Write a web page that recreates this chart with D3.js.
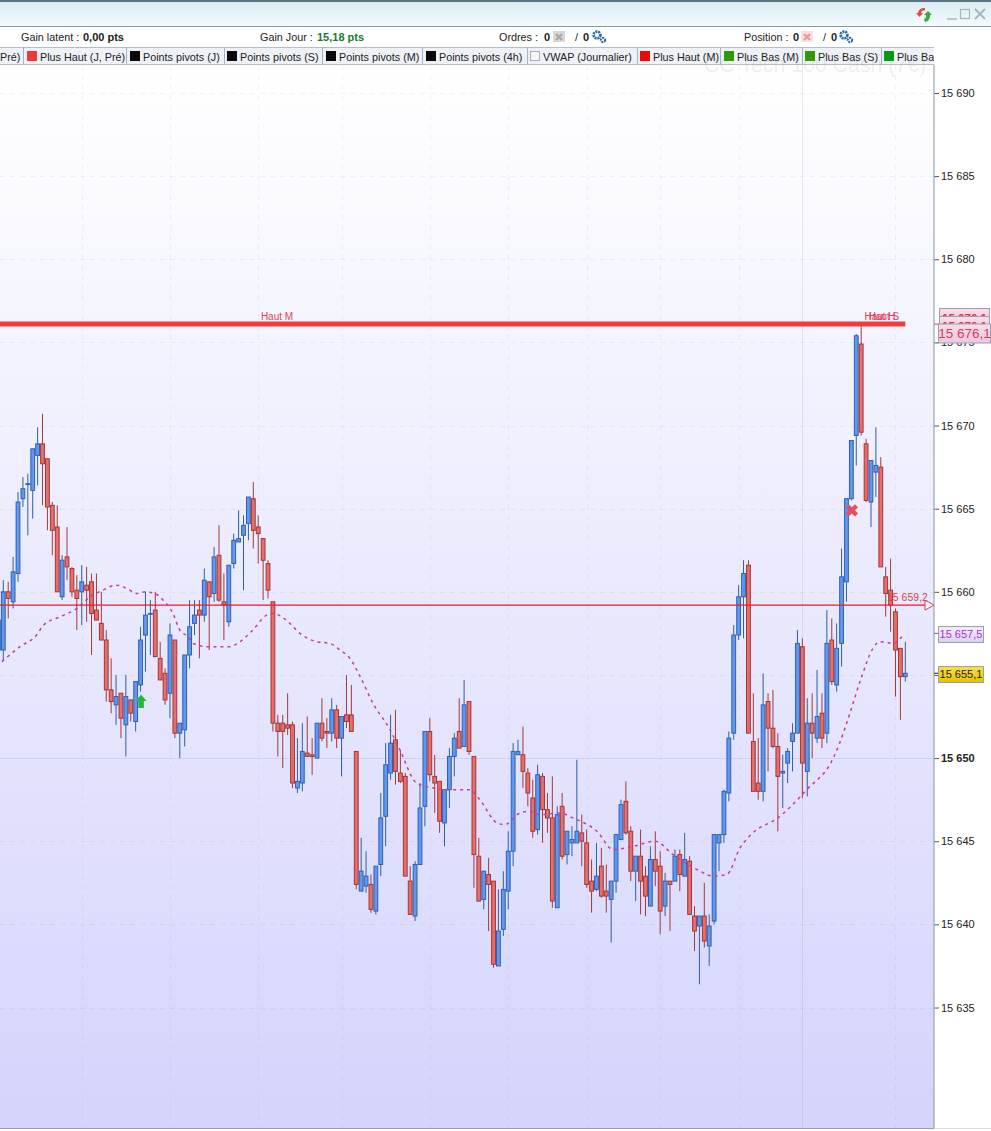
<!DOCTYPE html>
<html><head><meta charset="utf-8">
<style>html,body{margin:0;padding:0;background:#fff;overflow:hidden}svg{display:block}text{font-family:"Liberation Sans",Arial,sans-serif}</style>
<script src="https://cdn.jsdelivr.net/npm/d3@7"></script></head><body>
<script>
const opens=[15656.5,15656.5,15660.0,15659.4,15661.1,15665.6,15666.5,15666.1,15668.2,15668.9,
15668.0,15665.2,15663.9,15659.7,15662.1,15661.4,15660.1,15660.0,15660.4,15660.6,
15658.9,15658.1,15657.1,15654.1,15653.2,15653.9,15652.0,15653.5,15652.2,15654.4,
15657.4,15658.7,15658.9,15656.0,15655.1,15653.9,15657.1,15651.5,15651.7,15656.2,
15658.1,15658.9,15658.6,15660.6,15659.9,15662.2,15659.4,15658.2,15661.7,15663.0,
15663.4,15664.1,15665.6,15663.9,15663.2,15661.7,15659.4,15652.1,15652.1,15652.0,
15652.0,15648.2,15648.5,15650.3,15650.2,15650.0,15652.1,15651.6,15651.5,15652.9,
15651.2,15652.6,15652.6,15650.4,15642.0,15642.3,15642.4,15640.8,15643.6,15646.5,
15649.1,15651.1,15649.1,15648.9,15642.6,15640.5,15643.6,15647.1,15651.6,15648.9,
15648.6,15646.1,15648.1,15650.1,15651.6,15650.7,15653.4,15650.1,15644.1,15641.5,
15643.0,15642.6,15637.5,15639.7,15642.0,15644.4,15650.2,15650.2,15649.1,15647.6,
15645.7,15648.9,15646.9,15646.4,15641.0,15647.1,15644.2,15644.9,15644.9,15645.5,
15644.9,15642.6,15642.1,15643.5,15642.0,15641.5,15642.6,15645.1,15647.4,15645.6,
15643.2,15644.1,15642.9,15641.1,15643.9,15643.5,15641.1,15642.6,15642.6,15644.2,
15642.9,15643.8,15640.5,15639.9,15640.5,15638.7,15640.2,15644.9,15645.4,15647.9,
15651.5,15657.4,15659.7,15661.6,15651.0,15648.5,15648.0,15653.4,15651.8,15650.7,
15649.1,15649.7,15651.0,15651.5,15656.7,15649.2,15652.1,15651.2,15652.7,15651.5,
15657.1,15654.4,15656.9,15660.6,15665.6,15669.4,15674.9,15668.9,15665.4,15667.2,
15667.5,15660.9,15660.1,15658.8,15656.6,15654.9];
const closes=[15658.3,15660.0,15659.6,15661.2,15665.4,15666.2,15666.5,15668.6,15668.9,15667.7,
15665.1,15663.7,15660.0,15661.9,15661.5,15660.0,15659.6,15660.6,15660.1,15658.7,
15658.3,15657.1,15654.1,15653.4,15653.7,15652.4,15653.7,15652.7,15654.6,15657.1,
15658.6,15658.7,15656.1,15654.7,15653.5,15657.4,15651.5,15652.1,15656.2,15657.9,
15658.6,15658.6,15660.7,15659.7,15662.1,15659.5,15659.2,15661.6,15663.1,15663.2,
15664.0,15665.7,15663.7,15663.5,15661.9,15660.1,15652.1,15651.6,15651.6,15651.8,
15648.5,15648.6,15650.4,15650.1,15650.1,15652.1,15651.2,15651.5,15652.9,15651.2,
15652.5,15652.2,15651.6,15642.4,15643.2,15642.9,15640.9,15643.5,15646.4,15649.6,
15650.9,15649.2,15648.6,15642.9,15640.6,15643.6,15647.0,15651.6,15649.0,15648.5,
15646.2,15648.1,15650.1,15651.2,15650.6,15653.2,15650.4,15644.2,15641.4,15643.2,
15642.4,15637.6,15639.6,15642.1,15644.4,15650.4,15650.4,15649.2,15647.9,15645.6,
15649.0,15646.9,15646.4,15641.4,15646.6,15644.1,15645.6,15645.1,15645.6,15645.0,
15642.4,15642.0,15642.9,15641.7,15641.7,15642.6,15645.4,15647.2,15645.5,15643.2,
15644.1,15642.6,15641.7,15643.9,15643.2,15640.8,15642.6,15642.4,15644.1,15643.0,
15643.9,15640.6,15639.6,15640.5,15639.0,15639.9,15645.4,15645.4,15648.0,15651.2,
15657.4,15659.7,15661.1,15651.5,15648.0,15648.0,15653.2,15651.8,15650.7,15648.9,
15649.2,15650.4,15651.5,15656.9,15649.7,15652.1,15651.5,15652.5,15651.2,15656.9,
15654.6,15656.6,15660.9,15665.6,15669.1,15675.4,15669.6,15665.5,15667.9,15667.6,
15661.5,15659.9,15659.2,15656.5,15654.9,15655.1];
const highs=[15658.3,15660.7,15660.6,15662.1,15666.0,15666.9,15667.1,15668.6,15669.9,15670.7,
15668.0,15665.4,15665.2,15662.2,15663.9,15661.5,15661.0,15661.6,15661.5,15661.1,
15661.1,15660.0,15657.7,15656.0,15655.0,15653.9,15655.0,15653.5,15654.6,15657.9,
15660.0,15659.5,15660.0,15657.0,15655.4,15658.1,15657.1,15652.1,15656.2,15659.5,
15659.5,15659.5,15661.4,15660.6,15662.7,15664.0,15661.1,15661.6,15663.5,15664.9,
15664.6,15665.7,15666.6,15664.6,15663.2,15661.9,15659.4,15652.6,15652.6,15653.9,
15652.2,15651.2,15652.1,15652.5,15651.2,15652.1,15653.6,15652.4,15653.6,15653.2,
15652.5,15655.0,15654.4,15650.4,15645.2,15644.4,15643.0,15643.5,15647.9,15650.9,
15652.6,15652.9,15650.5,15649.1,15643.5,15643.8,15648.5,15651.6,15652.4,15650.2,
15648.6,15648.1,15650.6,15651.5,15653.6,15654.7,15653.4,15650.1,15645.2,15643.2,
15644.0,15642.6,15642.1,15643.2,15645.6,15650.9,15651.1,15651.9,15649.4,15648.7,
15649.6,15649.1,15647.9,15648.9,15647.1,15647.9,15645.6,15645.9,15649.9,15646.6,
15645.7,15643.9,15644.9,15644.6,15643.6,15642.6,15645.4,15647.5,15648.6,15645.9,
15644.1,15645.7,15643.5,15644.7,15645.6,15644.4,15643.1,15642.6,15644.5,15644.5,
15645.5,15644.1,15641.1,15640.5,15642.5,15640.6,15645.4,15645.4,15648.1,15651.6,
15658.0,15660.4,15661.9,15661.9,15653.9,15651.2,15655.1,15653.9,15654.1,15651.5,
15650.2,15650.6,15652.1,15657.7,15657.2,15653.6,15653.9,15655.3,15653.9,15658.9,
15658.4,15658.1,15662.6,15665.6,15669.1,15675.5,15676.0,15669.2,15667.9,15669.9,
15668.1,15661.5,15662.0,15659.0,15656.6,15657.0];
const lows=[15654.5,15655.9,15658.4,15659.0,15660.6,15665.1,15663.4,15664.4,15666.4,15665.2,
15663.7,15662.2,15660.0,15659.5,15660.7,15659.7,15657.7,15658.0,15658.2,15656.2,
15658.3,15657.1,15653.4,15652.7,15652.0,15651.2,15650.1,15652.2,15651.6,15654.0,
15655.2,15656.2,15656.1,15654.7,15653.2,15652.4,15651.2,15650.0,15650.7,15655.4,
15657.4,15656.0,15658.2,15656.5,15659.4,15659.4,15657.1,15657.9,15661.4,15663.0,
15660.1,15663.1,15662.6,15661.7,15659.5,15659.6,15651.6,15650.1,15649.4,15651.4,
15648.2,15647.9,15648.0,15650.1,15649.0,15650.0,15651.0,15650.6,15651.0,15650.6,
15648.9,15651.8,15651.6,15642.1,15642.0,15641.9,15640.7,15640.6,15642.9,15644.7,
15648.7,15648.4,15648.5,15642.9,15640.6,15640.2,15643.6,15645.9,15648.6,15646.7,
15645.5,15644.7,15647.0,15648.9,15650.6,15650.7,15650.2,15642.2,15641.4,15640.9,
15639.6,15637.4,15637.5,15639.3,15640.9,15643.5,15650.2,15648.2,15647.1,15645.2,
15645.4,15644.9,15645.5,15641.0,15641.0,15643.9,15643.6,15644.1,15644.9,15643.5,
15642.2,15640.7,15642.0,15641.6,15640.7,15638.9,15641.9,15645.1,15645.4,15642.6,
15641.4,15640.6,15640.5,15641.1,15642.3,15639.4,15640.5,15639.6,15642.6,15642.0,
15642.9,15640.6,15638.4,15636.4,15638.6,15637.5,15640.0,15643.2,15644.9,15647.4,
15651.1,15657.1,15657.2,15651.5,15648.0,15647.5,15647.4,15649.2,15650.6,15645.6,
15647.0,15648.5,15649.2,15651.5,15647.6,15647.7,15650.0,15650.9,15650.6,15650.9,
15654.4,15654.0,15655.5,15659.4,15665.5,15667.6,15669.4,15665.4,15663.9,15665.7,
15661.5,15658.5,15657.6,15653.7,15652.3,15654.6];
const vwapCandles=[0.7,4.4,7.8,9.2,12.6,16,18.7,21.3,24,26.2,28.2,29.9,31.9,33.6,35.6,37,38.7,39.7,42.5,47.2,49.3,51.9,54.7,55.8,57.8,59.1,61.5,64.9,67.6,69.7,71.7,73.8,76.4,79.9,81.9,85.3,88.7,92.1,96.2,98.2,101.7,103.3,106.4,108.5,110.5,114.6,117.2,122.1,125.4,129.5,134,137.6,142.5,145.8,148.6,151.3,153.9,159,164.9,170.3,172.7,173.7,176.1,178.4,179.8,182.5,184.3];
const vwapValues=[15655.8,15656.7,15657.4,15658,15658.5,15659,15659.7,15660.1,15660.4,15660.2,15659.9,15660,15659.9,15659.5,15658.7,15657.7,15657.3,15656.9,15656.7,15656.7,15657,15657.7,15658.6,15658.7,15658.5,15658.2,15657.5,15657,15656.9,15656.5,15656,15654.9,15653.3,15651.7,15650.5,15648.5,15648.2,15648.1,15648.1,15647.5,15646.1,15646,15646.7,15646.8,15646.6,15646.7,15646.4,15645.6,15644.5,15644.7,15645,15644.2,15643.3,15642.9,15643,15644.6,15645.5,15646.4,15648.1,15650,15651.8,15652.7,15654.9,15656.6,15657,15656.9,15657.3];
const gridCandles=[17,35,53,70,88,104,120,135,151,164,183];
const tickValues=[15635,15640,15645,15650,15655,15660,15665,15670,15675,15680,15685,15690];
const highLevel=15676.1, lineLevel=15659.2, vwapLevel=15657.5, lastLevel=15655.1;
const legendTabs=[["Plus Haut (J, Pré)","#f03a3a",27,126],["Points pivots (J)","#0a0a0a",130,224],["Points pivots (S)","#0a0a0a",227,322],["Points pivots (M)","#0a0a0a",326,422],["Points pivots (4h)","#0a0a0a",426,527],["VWAP (Journalier)","#f4f6f8",530,637],["Plus Haut (M)","#f00808",640,720],["Plus Bas (M)","#2f9a08",724,802],["Plus Bas (S)","#2f9a08",805,881],["Plus Bas","#089a10",884,934]];
const W=991,H=1131,plotR=934,plotT=65,plotB=1128;
const x=d3.scaleLinear().domain([0,185]).range([-1.6,905.3]);
const y=d3.scaleLinear().domain([15635,15690]).range([1007.5,93]);
const svg=d3.select("body").append("svg").attr("width",W).attr("height",H);
const defs=svg.append("defs");
function grad(id,a,b){const g=defs.append("linearGradient").attr("id",id).attr("x1",0).attr("x2",0).attr("y1",0).attr("y2",1);g.append("stop").attr("offset",0).attr("stop-color",a);g.append("stop").attr("offset",1).attr("stop-color",b);}
grad("bg","#ffffff","#d4d4fc");grad("top","#dcecf3","#f3fafc");grad("pink","#fbdde8","#e8c8e0");grad("lav","#f2eefb","#d6d2f0");grad("gold","#fbe23a","#e8c000");
svg.append("rect").attr("width",W).attr("height",H).attr("fill","#fff");
svg.append("rect").attr("x",0).attr("y",plotT).attr("width",plotR).attr("height",plotB-plotT).attr("fill","url(#bg)");
// grid
const grid=svg.append("g");
const snap=v=>Math.round(v)+.5;
grid.selectAll("line.h").data(tickValues).join("line").attr("x1",0).attr("x2",plotR).attr("y1",d=>snap(y(d))).attr("y2",d=>snap(y(d)))
 .attr("stroke","#6a6aa8").attr("stroke-opacity",d=>d===15650?.16:.08).attr("stroke-dasharray",d=>d===15650?null:"5,5").attr("stroke-width",1);
grid.selectAll("line.v").data(gridCandles).join("line").attr("x1",d=>snap(x(d))).attr("x2",d=>snap(x(d))).attr("y1",plotT).attr("y2",plotB)
 .attr("stroke","#6a6aa8").attr("stroke-opacity",d=>d===164?.14:.08).attr("stroke-dasharray",d=>d===164?null:"5,5");
// candles
const candles=svg.append("g");
const idx=d3.range(opens.length), up=i=>closes[i]>=opens[i];
const g=candles.selectAll("g").data(idx).join("g");
g.append("line").attr("x1",i=>x(i)).attr("x2",i=>x(i)).attr("y1",i=>y(highs[i])).attr("y2",i=>y(lows[i]))
 .attr("stroke",i=>up(i)?"#2f5f9f":"#a03a3a").attr("stroke-width",1);
g.append("rect").attr("x",i=>x(i)-1.9).attr("width",3.8)
 .attr("y",i=>y(Math.max(opens[i],closes[i]))).attr("height",i=>Math.max(0.8,Math.abs(y(opens[i])-y(closes[i]))))
 .attr("fill",i=>up(i)?"#6496ee":"#e2706c").attr("stroke",i=>up(i)?"#2b62b4":"#a83434").attr("stroke-width",1);
// levels
svg.append("line").attr("x1",0).attr("x2",x(185)).attr("y1",y(highLevel)).attr("y2",y(highLevel)).attr("stroke","#f03c3c").attr("stroke-width",5);
svg.append("line").attr("x1",0).attr("x2",925).attr("y1",y(lineLevel)).attr("y2",y(lineLevel)).attr("stroke","#e81c2a").attr("stroke-width",1.4);
svg.append("path").attr("d",`M925,${y(lineLevel)-5}L934,${y(lineLevel)}L925,${y(lineLevel)+5}Z`).attr("fill","#fff").attr("fill-opacity",.5).attr("stroke","#e2404c");
svg.append("text").attr("x",887).attr("y",y(lineLevel)-4).attr("font-size",10.5).attr("fill","#e04050").text("15 659,2");
svg.append("text").attr("x",277).attr("y",y(highLevel)-4).attr("text-anchor","middle").attr("font-size",10).attr("fill","#e0405a").text("Haut M");
svg.append("text").attr("x",880).attr("y",y(highLevel)-4).attr("text-anchor","middle").attr("font-size",10).attr("fill","#e0405a").text("Haut H");
svg.append("text").attr("x",884).attr("y",y(highLevel)-4).attr("text-anchor","middle").attr("font-size",10).attr("fill","#e0405a").text("Haut S");
// vwap
const vwapLine=d3.line().x(d=>x(d[0])).y(d=>y(d[1])).curve(d3.curveMonotoneX);
svg.append("path").attr("d",vwapLine(vwapCandles.map((c,i)=>[c,vwapValues[i]]))).attr("fill","none").attr("stroke","#c83c9c").attr("stroke-width",1.5).attr("stroke-dasharray","3,4");
// markers
svg.append("path").attr("transform",`translate(${x(29.1)},${y(15653.4)})`).attr("d","M0,-7L5.5,-0.5H2.8V6.5H-2.8V-0.5H-5.5Z").attr("fill","#2cb53c");
svg.append("path").attr("transform",`translate(${x(174.1)},${y(15664.9)}) rotate(45)`).attr("d",d3.symbol(d3.symbolCross,95)).attr("fill","#e4505c");
// axis
const axis=svg.append("g").attr("transform",`translate(${plotR},0)`).call(d3.axisRight(y).tickValues(tickValues).tickSize(5).tickPadding(2).tickFormat(d=>d3.format(",")(d).replace(",", " ")));
axis.select(".domain").remove();
axis.selectAll("line").attr("stroke","#555");
axis.selectAll("text").attr("font-size",11).attr("fill","#222").attr("font-family","Liberation Sans").attr("font-weight",d=>d===15650?"bold":"normal");
svg.append("line").attr("x1",plotR).attr("x2",plotR).attr("y1",plotT).attr("y2",plotB).attr("stroke","#9aa4b4").attr("stroke-width",1.2);
svg.append("line").attr("x1",0).attr("x2",plotR).attr("y1",plotB+.5).attr("y2",plotB+.5).attr("stroke","#9a9ab0");
svg.append("line").attr("x1",plotR).attr("x2",W).attr("y1",plotB+.5).attr("y2",plotB+.5).attr("stroke","#ddd");
// price tags
function tag(cy,x0,w,h,fill,txt,col,fs,fw,ty){
 svg.append("rect").attr("x",x0+.5).attr("y",cy-h/2+.5).attr("width",w).attr("height",h).attr("fill",fill).attr("stroke","#9aa0b4");
 svg.append("text").attr("x",x0+w/2+.5).attr("y",(ty||cy)+fs*.36).attr("text-anchor","middle").attr("font-size",fs).attr("font-weight",fw||"normal").attr("fill",col).text(txt);
}
svg.append("line").attr("x1",plotR).attr("x2",939).attr("y1",y(highLevel)).attr("y2",y(highLevel)).attr("stroke","#d84060");
tag(316,939,50,16,"url(#pink)","15 676,1","#d83050",11.5,"bold",318);
tag(324,939,50,16,"url(#pink)","15 676,1","#d83050",11.5,"bold",326);
tag(333,938,52,19,"url(#pink)","15 676,1","#d83a60",13.5);
svg.append("line").attr("x1",plotR).attr("x2",938).attr("y1",y(vwapLevel)).attr("y2",y(vwapLevel)).attr("stroke","#c040a0");
tag(634,938,45,16,"url(#lav)","15 657,5","#b030d0",11);
svg.append("line").attr("x1",plotR).attr("x2",938).attr("y1",y(lastLevel)).attr("y2",y(lastLevel)).attr("stroke","#222");
tag(674,938,45,16,"url(#gold)","15 655,1","#222",11);
// header
svg.append("rect").attr("width",W).attr("height",2).attr("fill","#5a7684");
svg.append("rect").attr("y",2).attr("width",W).attr("height",24).attr("fill","url(#top)");
svg.append("line").attr("x1",0).attr("x2",W).attr("y1",26.5).attr("y2",26.5).attr("stroke","#8a9aa2");
function info(xp,t,bold,col){svg.append("text").attr("x",xp).attr("y",41).attr("font-size",bold?11:10.8).attr("font-weight",bold?"bold":"normal").attr("fill",col||"#222").text(t);}
info(21,"Gain latent :");info(83,"0,00 pts",1);info(260,"Gain Jour :");info(317,"15,18 pts",1,"#1e7a2a");
info(499,"Ordres :");info(544,"0",1);info(575,"/");info(583,"0",1);
info(744,"Position :");info(793,"0",1);info(823,"/");info(831,"0",1);
[[553,"#d8d8d8","#a8a8a8"],[801,"#fbe0e0","#f09898"]].forEach(([a,f,s])=>{
 svg.append("rect").attr("x",a).attr("y",31).attr("width",12).attr("height",11).attr("fill",f);
 svg.append("path").attr("d",`M${a+3},${34}l6,6m0,-6l-6,6`).attr("stroke",s).attr("stroke-width",2.4);
});
[[597,35],[603,40],[844,35],[850,40]].forEach(([a,b],k)=>{
 svg.append("circle").attr("cx",a).attr("cy",b).attr("r",k%2?2.2:3.4).attr("fill","none").attr("stroke","#2468a8").attr("stroke-width",k%2?2:2.6).attr("stroke-dasharray","2,0.8");
});
// legend
svg.append("rect").attr("y",47).attr("width",plotR).attr("height",18).attr("fill","#eef2f6");
svg.append("line").attr("x1",0).attr("x2",plotR).attr("y1",47.5).attr("y2",47.5).attr("stroke","#b4bec8");
svg.append("line").attr("x1",0).attr("x2",plotR).attr("y1",64.5).attr("y2",64.5).attr("stroke","#b4bec8");
svg.append("text").attr("x",0).attr("y",61).attr("font-size",10.8).attr("fill","#222").text("Pré)");
svg.append("line").attr("x1",23.5).attr("x2",23.5).attr("y1",47).attr("y2",65).attr("stroke","#a8b4c0");
const clip=defs.append("clipPath").attr("id","lg");clip.append("rect").attr("x",0).attr("y",47).attr("width",plotR).attr("height",18);
const lg=svg.append("g").attr("clip-path","url(#lg)");
legendTabs.forEach(([t,c,a,b])=>{
 lg.append("rect").attr("x",a+.5).attr("y",51.5).attr("width",9).attr("height",9).attr("fill",c).attr("stroke",c==="#f4f6f8"?"#a8b0b8":c);
 lg.append("text").attr("x",a+13).attr("y",61).attr("font-size",10.8).attr("fill","#222").text(t);
 if(b<plotR)lg.append("line").attr("x1",b+.5).attr("x2",b+.5).attr("y1",47).attr("y2",65).attr("stroke","#a8b4c0");
});
svg.append("text").attr("x",704).attr("y",72).attr("font-size",21.3).attr("fill","#888").attr("fill-opacity",.15).text("CC Tech 100 Cash (7€)");
// window buttons
svg.append("path").attr("d","M925,8 a6,6 0 0 0 -7,5 h-2 l3.5,4 3.5,-4 h-2 a3,3 0 0 1 4,-2.5z").attr("fill","#e04848");
svg.append("path").attr("d","M925,22 a6,6 0 0 0 5,-7 h2 l-4,-4 -4,4 h2 a3,3 0 0 1 -2,4z").attr("fill","#38a838");
svg.append("line").attr("x1",947).attr("x2",957).attr("y1",19).attr("y2",19).attr("stroke","#a8b4bc").attr("stroke-width",1.5);
svg.append("rect").attr("x",960.5).attr("y",9.5).attr("width",9).attr("height",9).attr("fill","none").attr("stroke","#a8b4bc").attr("stroke-width",1.2);
svg.append("path").attr("d","M975,9L985,19M985,9L975,19").attr("stroke","#a8b4bc").attr("stroke-width",1.8);
</script></body></html>
